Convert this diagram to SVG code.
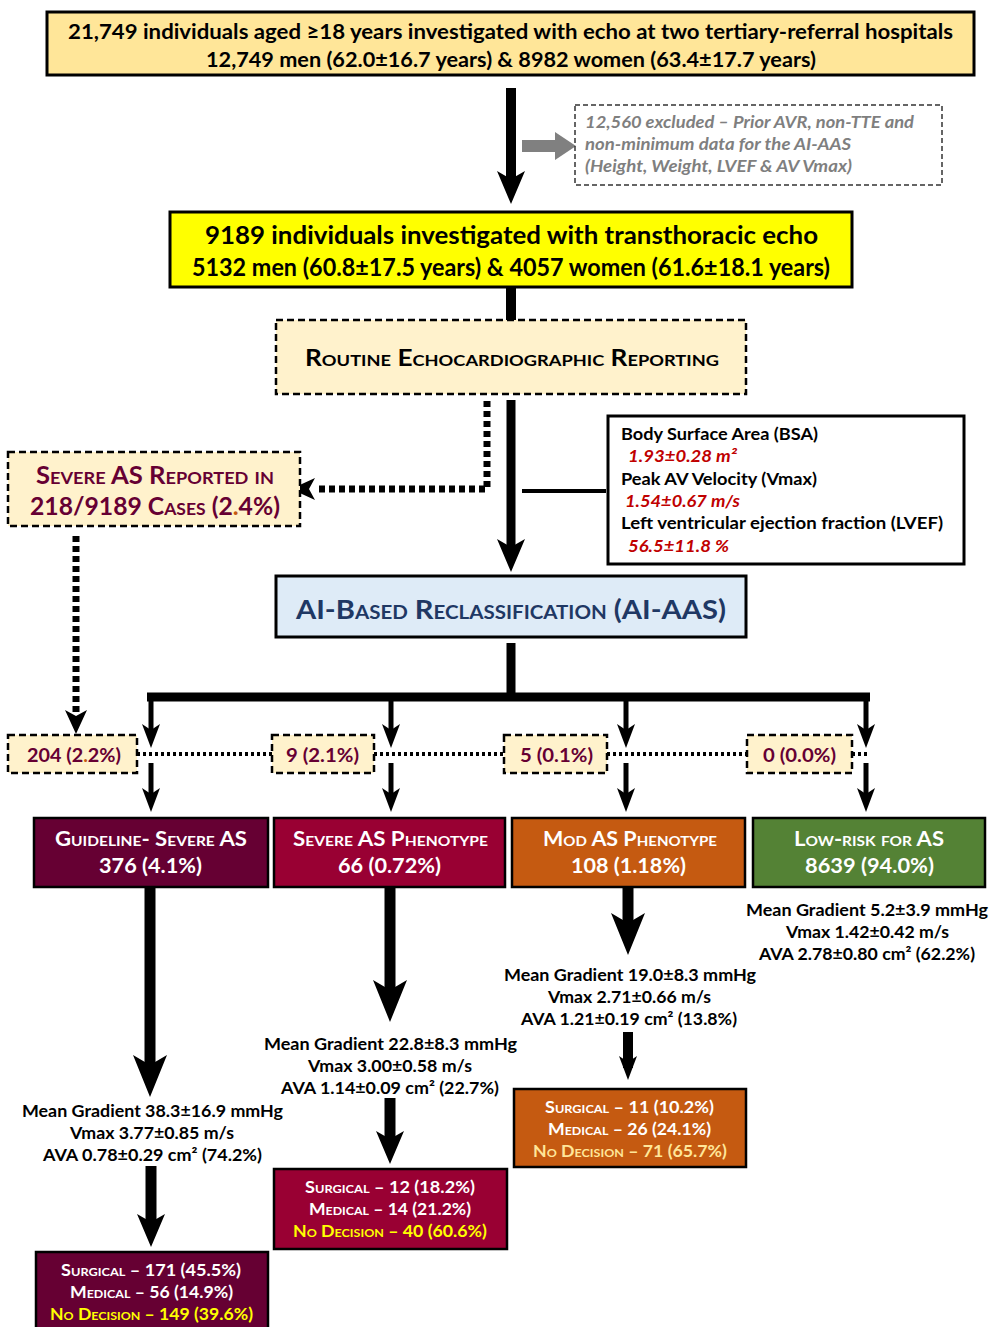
<svg xmlns="http://www.w3.org/2000/svg" width="990" height="1327" viewBox="0 0 990 1327">
<style>
.t{font-family:Lato,"Open Sans","Liberation Sans",sans-serif;font-weight:700;dominant-baseline:central}
.m{text-anchor:middle}
.sc{font-variant:small-caps}
.k{fill:#000}
.w{fill:#fff}
.y{fill:#ffff00}
.mr{fill:#660033}
.r{fill:#c00000;font-style:italic}
.g{fill:#7f7f7f;font-style:italic}
.solid{stroke:#000;stroke-width:3}
.dash{stroke:#000;stroke-width:2.5;stroke-dasharray:7 4}
.cat{stroke:#000;stroke-width:2.5}
.cream{fill:#fff2cc}
.ln{fill:none;stroke:#000}
.dot{fill:none;stroke:#000;stroke-width:7;stroke-dasharray:6 4}
.dl{fill:none;stroke:#000;stroke-width:4;stroke-dasharray:3 3}
</style>
<defs>
<marker id="mBig" markerUnits="userSpaceOnUse" markerWidth="50" markerHeight="40" refX="22" refY="0" viewBox="0 -20 50 40" orient="auto" overflow="visible"><path d="M0,-17 L42,0 L0,17 L10,0 Z" fill="#000"/></marker>
<marker id="mMid" markerUnits="userSpaceOnUse" markerWidth="40" markerHeight="32" refX="17" refY="0" viewBox="0 -16 40 32" orient="auto" overflow="visible"><path d="M0,-14 L33,0 L0,14 L8,0 Z" fill="#000"/></marker>
<marker id="mSm" markerUnits="userSpaceOnUse" markerWidth="30" markerHeight="22" refX="12" refY="0" viewBox="0 -11 30 22" orient="auto" overflow="visible"><path d="M0,-9 L24,0 L0,9 L6,0 Z" fill="#000"/></marker>
<marker id="mDot" markerUnits="userSpaceOnUse" markerWidth="30" markerHeight="26" refX="10" refY="0" viewBox="0 -13 30 26" orient="auto" overflow="visible"><path d="M0,-11 L24,0 L0,11 L6,0 Z" fill="#000"/></marker>
</defs>

<g id="connectors">
<path class="ln" d="M511,88 V188" stroke-width="10" marker-end="url(#mMid)"/>
<polygon points="522,140 555,140 555,132 576,146 555,160 555,152 522,152" fill="#808080"/>
<path class="ln" d="M511,287 V320" stroke-width="10"/>
<path class="dot" d="M487,401 V489 H318"/>
<path d="M329,489 l-24,0" fill="none" stroke="none" marker-end="url(#mDot)"/>
<path class="ln" d="M511,400 V556" stroke-width="9" marker-end="url(#mMid)"/>
<path class="ln" d="M522,491 H606" stroke-width="4"/>
<path class="dot" d="M76,536 V718"/>
<path d="M76,710 l0,10" fill="none" stroke="none" marker-end="url(#mDot)"/>
<path class="ln" d="M511,643 V697 M147,697 H870" stroke-width="9"/>
<path class="ln" d="M151,697 V736 M391,697 V736 M626,697 V736 M866,697 V736" stroke-width="5"/>
<path d="M151,730 V736" stroke="none" marker-end="url(#mSm)"/>
<path d="M391,730 V736" stroke="none" marker-end="url(#mSm)"/>
<path d="M626,730 V736" stroke="none" marker-end="url(#mSm)"/>
<path d="M866,730 V736" stroke="none" marker-end="url(#mSm)"/>
<path class="dl" d="M137,754 H272 M374,754 H504 M607,754 H747 M852,754 H868"/>
<path class="ln" d="M151,763 V800" stroke-width="5" marker-end="url(#mSm)"/>
<path class="ln" d="M391,763 V800" stroke-width="5" marker-end="url(#mSm)"/>
<path class="ln" d="M626,763 V800" stroke-width="5" marker-end="url(#mSm)"/>
<path class="ln" d="M866,763 V800" stroke-width="5" marker-end="url(#mSm)"/>
<path class="ln" d="M150,887 V1077" stroke-width="11" marker-end="url(#mBig)"/>
<path class="ln" d="M390,887 V1002" stroke-width="11" marker-end="url(#mBig)"/>
<path class="ln" d="M628,887 V935" stroke-width="11" marker-end="url(#mBig)"/>
<path class="ln" d="M151,1166 V1231" stroke-width="11" marker-end="url(#mMid)"/>
<path class="ln" d="M390,1098 V1148" stroke-width="11" marker-end="url(#mMid)"/>
<path class="ln" d="M628,1032 V1068" stroke-width="10" marker-end="url(#mSm)"/>
</g>

<g id="n-all">
<rect x="47" y="12" width="927" height="63" fill="#ffe699" class="solid"/>
<text class="t m k" x="510.5" y="31" font-size="20" textLength="885" lengthAdjust="spacingAndGlyphs">21,749 individuals aged ≥18 years investigated with echo at two tertiary-referral hospitals</text>
<text class="t m k" x="511" y="59" font-size="20" textLength="610" lengthAdjust="spacingAndGlyphs">12,749 men (62.0±16.7 years) &amp; 8982 women (63.4±17.7 years)</text>
</g>

<g id="n-excluded">
<rect x="575" y="105" width="367" height="80" fill="none" stroke="#333" stroke-width="1.5" stroke-dasharray="5 3"/>
<text class="t g" x="585" y="121" font-size="17" textLength="329" lengthAdjust="spacingAndGlyphs">12,560 excluded – Prior AVR, non-TTE and</text>
<text class="t g" x="585" y="143" font-size="17" textLength="266" lengthAdjust="spacingAndGlyphs">non-minimum data for the AI-AAS</text>
<text class="t g" x="585" y="165" font-size="17" textLength="267" lengthAdjust="spacingAndGlyphs">(Height, Weight, LVEF &amp; AV Vmax)</text>
</g>

<g id="n-tte">
<rect x="170" y="212" width="682" height="75" fill="#ffff00" class="solid"/>
<text class="t m k" x="511.5" y="234" font-size="24" textLength="613" lengthAdjust="spacingAndGlyphs">9189 individuals investigated with transthoracic echo</text>
<text class="t m k" x="511" y="266" font-size="24" textLength="638" lengthAdjust="spacingAndGlyphs">5132 men (60.8±17.5 years) &amp; 4057 women (61.6±18.1 years)</text>
</g>

<g id="n-routine">
<rect x="276" y="320" width="470" height="74" class="dash cream"/>
<text class="t m k sc" x="512" y="357" font-size="23" textLength="414" lengthAdjust="spacingAndGlyphs">Routine Echocardiographic Reporting</text>
</g>

<g id="n-reported">
<rect x="8" y="452" width="292" height="74" class="dash cream"/>
<text class="t m mr sc" x="155" y="474" font-size="24" textLength="238" lengthAdjust="spacingAndGlyphs">Severe AS Reported in</text>
<text class="t m mr sc" x="155" y="505" font-size="24" textLength="250" lengthAdjust="spacingAndGlyphs">218/9189 Cases (2<tspan fill="#c55a11">.</tspan>4%)</text>
</g>

<g id="n-inputs">
<rect x="608" y="416" width="356" height="148" fill="#fff" class="solid"/>
<text class="t k" x="621" y="433" font-size="17" textLength="197" lengthAdjust="spacingAndGlyphs">Body Surface Area (BSA)</text>
<text class="t r" x="628" y="455" font-size="17" textLength="109" lengthAdjust="spacingAndGlyphs">1.93±0.28 m²</text>
<text class="t k" x="621" y="478" font-size="17" textLength="196" lengthAdjust="spacingAndGlyphs">Peak AV Velocity (Vmax)</text>
<text class="t r" x="625" y="500" font-size="17" textLength="115" lengthAdjust="spacingAndGlyphs">1.54±0.67 m/s</text>
<text class="t k" x="621" y="522" font-size="17" textLength="322" lengthAdjust="spacingAndGlyphs">Left ventricular ejection fraction (LVEF)</text>
<text class="t r" x="628" y="545" font-size="17" textLength="101" lengthAdjust="spacingAndGlyphs">56.5±11.8 %</text>
</g>

<g id="n-ai">
<rect x="276" y="576" width="470" height="61" fill="#deebf7" class="solid"/>
<text class="t m sc" x="511" y="608" font-size="27" fill="#1f3864" textLength="430" lengthAdjust="spacingAndGlyphs">AI-Based Reclassification (AI-AAS)</text>
</g>

<g id="n-c1">
<rect x="8" y="735" width="129" height="38" class="dash cream"/>
<text class="t m mr" x="74" y="754" font-size="19" textLength="94" lengthAdjust="spacingAndGlyphs">204 (2<tspan fill="#c55a11">.</tspan>2%)</text>
</g>
<g id="n-c2">
<rect x="272" y="735" width="102" height="38" class="dash cream"/>
<text class="t m mr" x="322.5" y="754" font-size="19" textLength="73" lengthAdjust="spacingAndGlyphs">9 (2.1%)</text>
</g>
<g id="n-c3">
<rect x="504" y="735" width="103" height="38" class="dash cream"/>
<text class="t m mr" x="556.5" y="754" font-size="19" textLength="73" lengthAdjust="spacingAndGlyphs">5 (0.1%)</text>
</g>
<g id="n-c4">
<rect x="747" y="735" width="105" height="38" class="dash cream"/>
<text class="t m mr" x="799.5" y="754" font-size="19" textLength="73" lengthAdjust="spacingAndGlyphs">0 (0.0%)</text>
</g>

<g id="n-guideline">
<rect x="34" y="818" width="234" height="69" fill="#660033" class="cat"/>
<text class="t m w sc" x="151" y="838" font-size="20" textLength="192" lengthAdjust="spacingAndGlyphs">Guideline- Severe AS</text>
<text class="t m w" x="150.5" y="865" font-size="20" textLength="103" lengthAdjust="spacingAndGlyphs">376 (4.1%)</text>
</g>
<g id="n-severe">
<rect x="274" y="818" width="231" height="69" fill="#990033" class="cat"/>
<text class="t m w sc" x="390.5" y="838" font-size="20" textLength="195" lengthAdjust="spacingAndGlyphs">Severe AS Phenotype</text>
<text class="t m w" x="389.5" y="865" font-size="20" textLength="103" lengthAdjust="spacingAndGlyphs">66 (0.72%)</text>
</g>
<g id="n-mod">
<rect x="512" y="818" width="233" height="69" fill="#c55a11" class="cat"/>
<text class="t m w sc" x="630" y="838" font-size="20" textLength="174" lengthAdjust="spacingAndGlyphs">Mod AS Phenotype</text>
<text class="t m w" x="628.5" y="865" font-size="20" textLength="115" lengthAdjust="spacingAndGlyphs">108 (1.18%)</text>
</g>
<g id="n-low">
<rect x="753" y="818" width="232" height="69" fill="#548235" class="cat"/>
<text class="t m w sc" x="869" y="838" font-size="20" textLength="150" lengthAdjust="spacingAndGlyphs">Low-risk for AS</text>
<text class="t m w" x="869.5" y="865" font-size="20" textLength="129" lengthAdjust="spacingAndGlyphs">8639 (94.0%)</text>
</g>

<g id="n-low-stats">
<text class="t m k" x="867" y="909" font-size="17" textLength="242" lengthAdjust="spacingAndGlyphs">Mean Gradient 5.2±3.9 mmHg</text>
<text class="t m k" x="867.5" y="931" font-size="17" textLength="163" lengthAdjust="spacingAndGlyphs">Vmax 1.42±0.42 m/s</text>
<text class="t m k" x="867" y="953" font-size="17" textLength="216" lengthAdjust="spacingAndGlyphs">AVA 2.78±0.80 cm² (62.2%)</text>
</g>
<g id="n-mod-stats">
<text class="t m k" x="630" y="974" font-size="17" textLength="252" lengthAdjust="spacingAndGlyphs">Mean Gradient 19.0±8.3 mmHg</text>
<text class="t m k" x="629.5" y="996" font-size="17" textLength="163" lengthAdjust="spacingAndGlyphs">Vmax 2.71±0.66 m/s</text>
<text class="t m k" x="629" y="1018" font-size="17" textLength="216" lengthAdjust="spacingAndGlyphs">AVA 1.21±0.19 cm² (13.8%)</text>
</g>
<g id="n-severe-stats">
<text class="t m k" x="390.5" y="1043" font-size="17" textLength="253" lengthAdjust="spacingAndGlyphs">Mean Gradient 22.8±8.3 mmHg</text>
<text class="t m k" x="390" y="1065" font-size="17" textLength="164" lengthAdjust="spacingAndGlyphs">Vmax 3.00±0.58 m/s</text>
<text class="t m k" x="390" y="1087" font-size="17" textLength="218" lengthAdjust="spacingAndGlyphs">AVA 1.14±0.09 cm² (22.7%)</text>
</g>
<g id="n-guideline-stats">
<text class="t m k" x="152.5" y="1110" font-size="17" textLength="261" lengthAdjust="spacingAndGlyphs">Mean Gradient 38.3±16.9 mmHg</text>
<text class="t m k" x="152" y="1132" font-size="17" textLength="164" lengthAdjust="spacingAndGlyphs">Vmax 3.77±0.85 m/s</text>
<text class="t m k" x="152.5" y="1154" font-size="17" textLength="219" lengthAdjust="spacingAndGlyphs">AVA 0.78±0.29 cm² (74.2%)</text>
</g>

<g id="n-mod-decision">
<rect x="514" y="1089" width="232" height="78" fill="#c55a11" class="cat"/>
<text class="t m w sc" x="629.5" y="1106" font-size="17" textLength="169" lengthAdjust="spacingAndGlyphs">Surgical – 11 (10.2%)</text>
<text class="t m w sc" x="629.5" y="1128" font-size="17" textLength="163" lengthAdjust="spacingAndGlyphs">Medical – 26 (24.1%)</text>
<text class="t m sc" x="630" y="1150" font-size="17" fill="#ffe699" textLength="194" lengthAdjust="spacingAndGlyphs">No Decision – 71 (65.7%)</text>
</g>
<g id="n-severe-decision">
<rect x="274" y="1169" width="233" height="80" fill="#990033" class="cat"/>
<text class="t m w sc" x="390" y="1186" font-size="17" textLength="170" lengthAdjust="spacingAndGlyphs">Surgical – 12 (18.2%)</text>
<text class="t m w sc" x="390" y="1208" font-size="17" textLength="162" lengthAdjust="spacingAndGlyphs">Medical – 14 (21.2%)</text>
<text class="t m y sc" x="390" y="1230" font-size="17" textLength="194" lengthAdjust="spacingAndGlyphs">No Decision – 40 (60.6%)</text>
</g>
<g id="n-guideline-decision">
<rect x="36" y="1252" width="232" height="82" fill="#660033" class="cat"/>
<text class="t m w sc" x="151" y="1269" font-size="17" textLength="180" lengthAdjust="spacingAndGlyphs">Surgical – 171 (45.5%)</text>
<text class="t m w sc" x="151.5" y="1291" font-size="17" textLength="163" lengthAdjust="spacingAndGlyphs">Medical – 56 (14.9%)</text>
<text class="t m y sc" x="151.5" y="1313" font-size="17" textLength="203" lengthAdjust="spacingAndGlyphs">No Decision – 149 (39.6%)</text>
</g>
</svg>
